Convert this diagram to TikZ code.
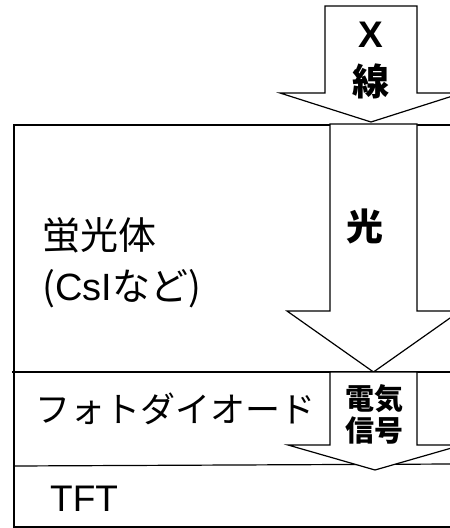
\documentclass[tikz,border=0pt]{standalone}
\usepackage{fontspec}
\setmainfont{Noto Sans CJK JP}
\newfontfamily\latinfont{Liberation Sans}
\begin{document}
\begin{tikzpicture}[x=1pt,y=-1pt,
  layer/.style={line width=1.2pt},
  bigarrow/.style={draw=black,fill=white,line width=1.2pt,line join=miter},
  lbl/.style={inner sep=0pt,font=\fontsize{38}{51}\selectfont},
  blbl/.style={inner sep=0pt,font=\bfseries\fontsize{37}{48}\selectfont,align=center}]
\useasboundingbox (0,0) rectangle (450,528);
\clip (0,0) rectangle (450,528);
% layer lines
\coordinate (tl) at (14,125);
\coordinate (tr) at (452,125);
\coordinate (bl) at (14,527);
\coordinate (br) at (452,527);
\coordinate (pdl) at (12,372);
\coordinate (pdr) at (452,372);
\coordinate (tftl) at (14,466);
\coordinate (tftr) at (452,464);
\draw[layer] (tr) -- (tl) -- (bl) -- (br);
\draw[layer] (pdl) -- (pdr);
\draw[layer] (tftl) -- (tftr);
% X-ray arrow
\draw[bigarrow] (325,6) -- (417,6) -- (417,93) -- (462,93) -- (371,122) -- (280,93) -- (325,93) -- cycle;
% light arrow
\draw[bigarrow] (330,124) -- (417,124) -- (417,311) -- (460,311) -- (373.5,372) -- (287,311) -- (330,311) -- cycle;
% electric signal arrow
\draw[bigarrow] (330,372) -- (417,372) -- (417,445) -- (462,445) -- (375,470) -- (288,445) -- (330,445) -- cycle;
% texts
\node[blbl] (xray) at (371,61) {{\latinfont X}\\線};
\node[blbl] (light) at (365,226) {光};
\node[blbl,font=\bfseries\fontsize{29}{32}\selectfont] (sig) at (374,414) {電気\\信号};
\node[lbl,anchor=west,align=left] (phos) at (42,263) {蛍光体\\(\latinfont CsI\normalfont など)};
\node[lbl,anchor=west,font=\fontsize{35}{40}\selectfont] (pd) at (35,409) {フォトダイオード};
\node[lbl,anchor=west,font=\latinfont\fontsize{37}{40}\selectfont] (tft) at (50,499) {TFT};
\end{tikzpicture}
\end{document}
